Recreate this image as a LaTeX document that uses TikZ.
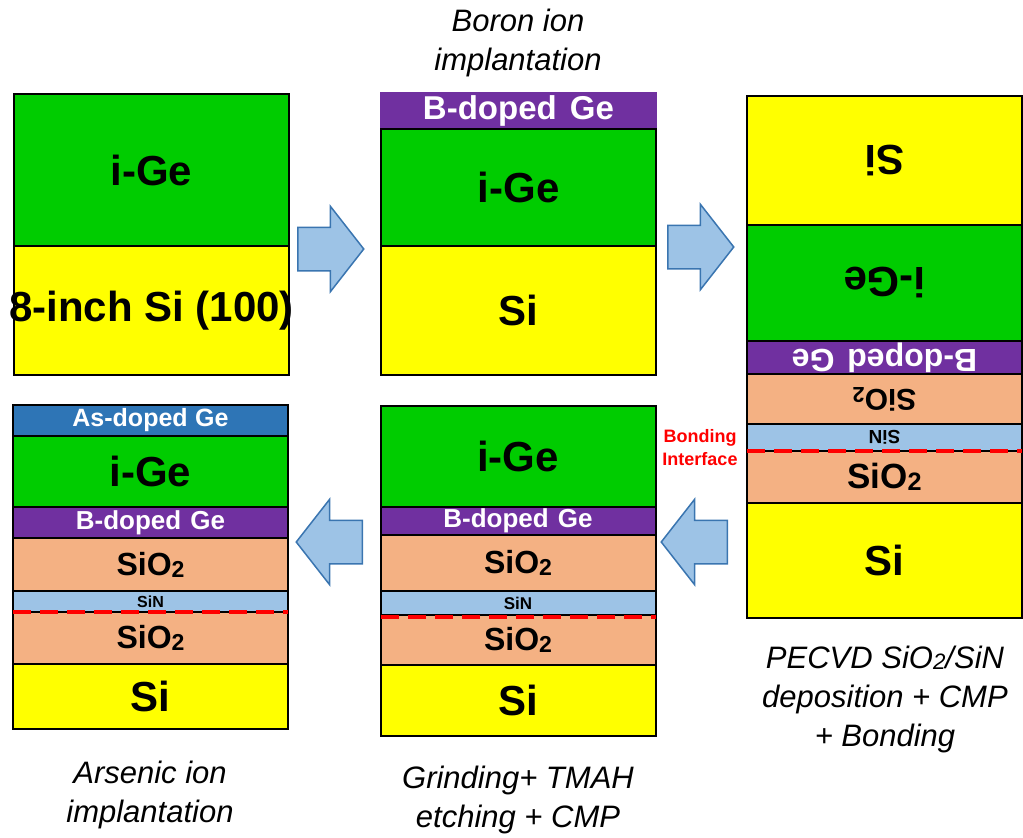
\documentclass[tikz,border=0pt]{standalone}
\usepackage{fontspec}
\setmainfont{Liberation Sans}
\usepackage{xcolor}
\usepackage{tikz}
\usetikzlibrary{shapes.arrows, positioning}

\definecolor{siyellow}{HTML}{FFFF00}
\definecolor{gegreen}{HTML}{00CC00}
\definecolor{bgepurple}{HTML}{7030A0}
\definecolor{asgeblue}{HTML}{2E75B6}
\definecolor{oxideorange}{HTML}{F4B183}
\definecolor{nitrideblue}{HTML}{9DC3E6}
\definecolor{arrowedge}{HTML}{3A75B0}

\newcommand{\sioxide}{SiO\raisebox{-0.06em}{\scalebox{0.72}{2}}}
\newcommand{\flip}[1]{\rotatebox[origin=c]{180}{#1}}

\begin{document}
\begin{tikzpicture}[
  x=1pt, y=-1pt,
  layer/.style={rectangle, draw=black, line width=2pt, inner sep=0pt, outer sep=0pt, minimum width=275pt, text centered},
  si/.style={layer, fill=siyellow, font=\fontsize{42}{44}\selectfont\bfseries},
  ge/.style={layer, fill=gegreen, font=\fontsize{42}{44}\selectfont\bfseries},
  bge/.style={layer, fill=bgepurple, text=white, font=\fontsize{26}{28}\selectfont\bfseries},
  asge/.style={layer, fill=asgeblue, text=white, font=\fontsize{25}{27}\selectfont\bfseries},
  oxide/.style={layer, fill=oxideorange, font=\fontsize{32}{34}\selectfont\bfseries},
  nitride/.style={layer, fill=nitrideblue, font=\fontsize{17}{18}\selectfont\bfseries},
  bondline/.style={draw=red, line width=4.5pt, dash pattern=on 18pt off 9pt},
  blockarrow/.style={single arrow, draw=arrowedge, fill=nitrideblue, line width=1.5pt, minimum height=66pt, inner xsep=0pt, inner ysep=21pt, single arrow head extend=21pt, single arrow tip angle=104, anchor=tail},
  caption/.style={align=center, font=\fontsize{31}{39}\selectfont\itshape},
]
\useasboundingbox (0,0) rectangle (1023,838);

% Wafer 1: starting substrate
\node[ge, anchor=north, minimum height=152pt] (w1ge) at (151.5,94) {i-Ge};
\node[si, below=0pt of w1ge, minimum height=129pt] (w1si) {\makebox[0pt]{8-inch Si (100)}};

% Wafer 2: after boron implantation
\node[bge, draw=bgepurple, anchor=north, minimum height=36pt, font=\fontsize{33}{35}\selectfont\bfseries] (w2bge) at (518.5,93) {B-doped\hspace{0.4em}Ge};
\node[ge, below=0pt of w2bge, minimum height=117pt] (w2ge) {i-Ge};
\node[si, below=0pt of w2ge, minimum height=129pt] (w2si) {Si};

% Wafer 3: bonded stack (flipped)
\node[si, anchor=north, minimum height=129pt] (w3si) at (884.5,96) {\flip{Si}};
\node[ge, below=0pt of w3si, minimum height=116pt] (w3ge) {\flip{i-Ge}};
\node[bge, below=0pt of w3ge, minimum height=33pt, font=\fontsize{32}{34}\selectfont\bfseries] (w3bge) {\flip{B-doped\hspace{0.4em}Ge}};
\node[oxide, below=0pt of w3bge, minimum height=50pt, font=\fontsize{30}{32}\selectfont\bfseries] (w3oxa) {\flip{\sioxide}};
\node[nitride, below=0pt of w3oxa, minimum height=27pt, font=\fontsize{19}{20}\selectfont\bfseries] (w3sin) {\flip{SiN}};
\node[oxide, below=0pt of w3sin, minimum height=52pt, font=\fontsize{35}{37}\selectfont\bfseries] (w3oxb) {\sioxide};
\node[si, below=0pt of w3oxb, minimum height=115pt] (w3si2) {Si};
\draw[bondline] (w3sin.south west) -- (w3sin.south east);

% Wafer 5: after grinding + TMAH + CMP
\node[ge, anchor=north, minimum height=101pt] (w5ge) at (518,406) {i-Ge};
\node[bge, below=0pt of w5ge, minimum height=28pt] (w5bge) {B-doped\hspace{0.35em}Ge};
\node[oxide, below=0pt of w5bge, minimum height=56pt] (w5oxa) {\sioxide};
\node[nitride, below=0pt of w5oxa, minimum height=24pt] (w5sin) {SiN};
\node[oxide, below=0pt of w5sin, minimum height=50pt] (w5oxb) {\sioxide};
\node[si, below=0pt of w5oxb, minimum height=71pt] (w5si) {Si};
\draw[bondline] ([yshift=-2pt]w5sin.south west) -- ([yshift=-2pt]w5sin.south east);

% Wafer 4: after arsenic implantation
\node[asge, anchor=north, minimum height=31pt] (w4asge) at (150.5,405) {As-doped\hspace{0.3em}Ge};
\node[ge, below=0pt of w4asge, minimum height=71pt] (w4ge) {i-Ge};
\node[bge, below=0pt of w4ge, minimum height=31pt] (w4bge) {B-doped\hspace{0.35em}Ge};
\node[oxide, below=0pt of w4bge, minimum height=53pt] (w4oxa) {\sioxide};
\node[nitride, below=0pt of w4oxa, minimum height=21pt, font=\fontsize{16}{17}\selectfont\bfseries] (w4sin) {SiN};
\node[oxide, below=0pt of w4sin, minimum height=52pt] (w4oxb) {\sioxide};
\node[si, below=0pt of w4oxb, minimum height=65pt] (w4si) {Si};
\draw[bondline] (w4sin.south west) -- (w4sin.south east);

% Process arrows
\node[blockarrow] (a12) at (297,249) {};
\node[blockarrow] (a23) at (667,247) {};
\node[blockarrow, shape border rotate=180] (a35) at (728,542) {};
\node[blockarrow, shape border rotate=180] (a54) at (363,542) {};

% Step captions
\node[caption] (cap2) at (518,43) {Boron ion\\implantation};
\node[caption] (cap3) at (885,699) {PECVD \sioxide/SiN\\deposition + CMP\\+ Bonding};
\node[caption] (cap5) at (518,800) {Grinding+ TMAH\\etching + CMP};
\node[caption] (cap4) at (150,795) {Arsenic ion\\implantation};
\node[align=center, text=red, font=\fontsize{18}{23}\selectfont\bfseries] (bondlbl) at (700,448) {Bonding\\Interface};

\end{tikzpicture}
\end{document}
